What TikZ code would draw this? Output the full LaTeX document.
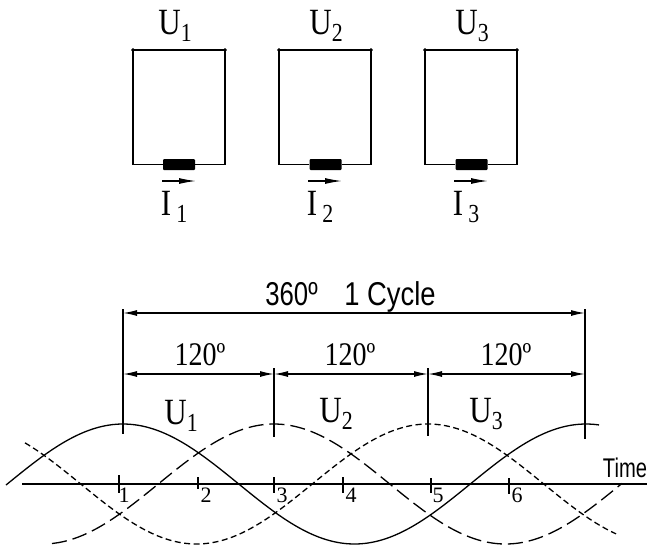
\documentclass[tikz,border=0pt]{standalone}
\usepackage{fontspec}
\setmainfont{Liberation Serif}
\setsansfont{Liberation Sans}
\usetikzlibrary{arrows.meta}
\newcommand{\bigtext}{\fontsize{37}{37}\selectfont}
\newcommand{\lowsub}[1]{\raisebox{-7pt}{\fontsize{26}{26}\selectfont #1}}
\tikzset{
  wire/.style={line width=1.2pt},
  wave/.style={line width=1.3pt, domain=#1, samples=90, smooth},
  longdash/.style={dash pattern=on 15pt off 6pt},
  shortdash/.style={dash pattern=on 6pt off 3.5pt},
  dimline/.style={line width=1.3pt, {Latex[length=14pt,width=6pt]}-{Latex[length=14pt,width=6pt]}},
  labU/.style={anchor=base, inner sep=0pt, font=\bigtext, xscale=.84},
  labdeg/.style={anchor=base, inner sep=0pt, font=\fontsize{33}{33}\selectfont, xscale=.85},
  labsans/.style={anchor=base, inner sep=0pt, font=\sffamily\fontsize{33}{33}\selectfont, xscale=.83},
  labnum/.style={anchor=base, inner sep=0pt, font=\fontsize{22}{22}\selectfont},
  coil/.style={fill=black, rounded corners=1pt, minimum width=32pt, minimum height=11pt, inner sep=0pt},
  flow/.style={line width=1.2pt, -{Latex[length=17pt,width=6pt]}}
}
\begin{document}
\begin{tikzpicture}[x=1pt,y=-1pt]
  \useasboundingbox (0,0) rectangle (647,549);

  \node [labU] (u1top) at (175,34) {U\lowsub{1}};
  \node [labU] (u2top) at (326,34) {U\lowsub{2}};
  \node [labU] (u3top) at (472,34) {U\lowsub{3}};

  \coordinate (a1) at (133,50);
  \coordinate (b1) at (225,50);
  \coordinate (a2) at (279,50);
  \coordinate (b2) at (371,50);
  \coordinate (a3) at (425,50);
  \coordinate (b3) at (517,50);

  \node [coil] (coil1) at (179,164.5) {};
  \node [coil] (coil2) at (325.5,164.5) {};
  \node [coil] (coil3) at (471.5,164.5) {};

  \draw [wire] (coil1) -| (a1) -- (b1) |- (coil1);
  \draw [wire] (coil2) -| (a2) -- (b2) |- (coil2);
  \draw [wire] (coil3) -| (a3) -- (b3) |- (coil3);
  \draw [fill] (a1) circle [radius=1.6];
  \draw [fill] (b1) circle [radius=1.6];
  \draw [fill] (a2) circle [radius=1.6];
  \draw [fill] (b2) circle [radius=1.6];
  \draw [fill] (a3) circle [radius=1.6];
  \draw [fill] (b3) circle [radius=1.6];

  \draw [flow] (162,181) -- (196,181);
  \draw [flow] (308,181) -- (342,181);
  \draw [flow] (454,181) -- (488,181);

  \node [labU] (i1) at (174,215) {I\,\lowsub{1}};
  \node [labU] (i2) at (320,215) {I\,\lowsub{2}};
  \node [labU] (i3) at (466,215) {I\,\lowsub{3}};

  \node [labsans, xscale=.94] (deg360) at (291.5,305) {360º};
  \node [labsans] (cycle) at (390,305) {1 Cycle};
  \node [labdeg] (deg1) at (200,365) {120º};
  \node [labdeg] (deg2) at (350,365) {120º};
  \node [labdeg] (deg3) at (506,365) {120º};

  \coordinate (p1) at (123,313);
  \coordinate (p2) at (274,374);
  \coordinate (p3) at (428,374);
  \coordinate (p4) at (585,313);
  \coordinate (q1) at (123,374);
  \coordinate (q4) at (585,374);

  \draw [dimline] (p1) -- (p4);
  \draw [dimline] (q1) -- (p2);
  \draw [dimline] (p2) -- (p3);
  \draw [dimline] (p3) -- (q4);

  \draw [wire] (123,309) -- (123,434);
  \draw [wire] (274,368) -- (274,437);
  \draw [wire] (428,368) -- (428,436);
  \draw [wire] (585,309) -- (585,439);

  \draw [wire] (22,484) -- (647,484);
  \draw [wire] (119,475) -- (119,493);
  \draw [wire] (198,477) -- (198,489);
  \draw [wire] (274,477) -- (274,493);
  \draw [wire] (343,477) -- (343,493);
  \draw [wire] (431,478) -- (431,493);
  \draw [wire] (509,478) -- (509,494);

  \node [labnum] (n1) at (124,502) {1};
  \node [labnum] (n2) at (206,502) {2};
  \node [labnum] (n3) at (282,502) {3};
  \node [labnum] (n4) at (351,502) {4};
  \node [labnum] (n5) at (438,502) {5};
  \node [labnum] (n6) at (517,502) {6};
  \node [labsans, xscale=.9, font=\sffamily\fontsize{27}{27}\selectfont] (time) at (625,477) {Time};

  \node [labU] (u1low) at (181,424) {U\lowsub{1}};
  \node [labU] (u2low) at (336,422) {U\lowsub{2}};
  \node [labU] (u3low) at (486,422) {U\lowsub{3}};

  \draw [wave=6:599] plot (\x,{484-60*cos(0.7775*(\x-123))});
  \draw [wave=52:622, longdash] plot (\x,{484-60*cos(0.7775*(\x-274))});
  \draw [wave=25:616, shortdash] plot (\x,{484-60*cos(0.7775*(\x-428))});
\end{tikzpicture}
\end{document}
